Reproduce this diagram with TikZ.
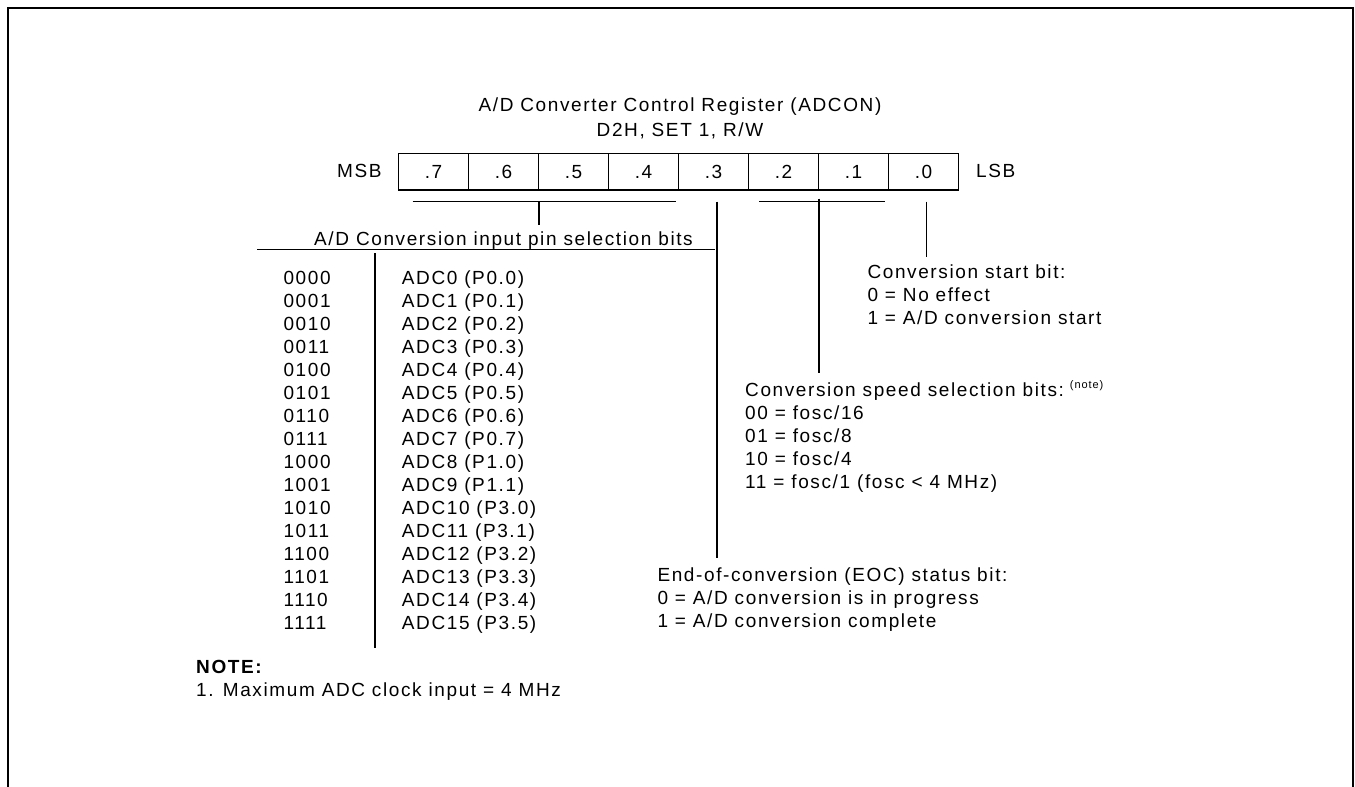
\documentclass[tikz,border=0pt]{standalone}
\usepackage{fontspec}
\setmainfont{Liberation Sans}[LetterSpace=8.5]
\begin{document}
\begin{tikzpicture}[x=1pt,y=-1pt,
  every node/.style={inner sep=0pt, font=\fontsize{19}{23}\selectfont},
  cell/.style={draw, line width=1.4pt, minimum width=70pt, minimum height=36.5pt},
  txt/.style={anchor=base west},
  conn/.style={line width=1.4pt},
  frameline/.style={line width=2pt, line join=miter}]
\useasboundingbox (0,0) rectangle (1355,787);
% outer frame (open at the bottom)
\draw[frameline] (8.3,787) -- (8.3,7.5) -- (1352.7,7.5) -- (1352.7,787);
% title
\node[anchor=base] (t1) at (680,111.7) {A/D Converter Control Register (ADCON)};
\node[anchor=base] (t2) at (680,136) {D2H, SET 1, R/W};
% register cells
\foreach \b [count=\i from 0] in {7,6,5,4,3,2,1,0}
  \node[cell] (b\b) at ({433.5+70*\i},171.75) {.\b};
\node[anchor=base east] (msb) at (381.7,177.3) {MSB};
\node[anchor=base west] (lsb) at (976,177.3) {LSB};
% bracket for bits 7-4
\coordinate (selL) at (412.7,201.7);
\coordinate (selR) at (675.5,201.7);
\coordinate (selM) at (539,201.7);
\coordinate (selS) at (539,225);
\draw[conn] (selL) -- (selR);
\draw[conn] (selM) -- (selS);
\node[anchor=base east] (seltxt) at (693,245) {A/D Conversion input pin selection bits};
\coordinate (ulL) at (257.3,249.5);
\coordinate (ulR) at (715,249.5);
\draw[conn] (ulL) -- (ulR);
\coordinate (tabT) at (375,253.3);
\coordinate (tabB) at (375,648.3);
\draw[conn] (tabT) -- (tabB);
\foreach \c/\a [count=\i from 0] in {0000/ADC0 (P0.0),0001/ADC1 (P0.1),0010/ADC2 (P0.2),0011/ADC3 (P0.3),0100/ADC4 (P0.4),0101/ADC5 (P0.5),0110/ADC6 (P0.6),0111/ADC7 (P0.7),1000/ADC8 (P1.0),1001/ADC9 (P1.1),1010/ADC10 (P3.0),1011/ADC11 (P3.1),1100/ADC12 (P3.2),1101/ADC13 (P3.3),1110/ADC14 (P3.4),1111/ADC15 (P3.5)}{
  \node[txt] (code\i) at (283.3,{284.3+23*\i}) {\c};
  \node[txt] (adc\i) at (401.7,{284.3+23*\i}) {\a};
}
% bit 3: EOC
\coordinate (eocT) at (717,201.7);
\coordinate (eocB) at (717,558.3);
\draw[conn] (eocT) -- (eocB);
\node[txt] (eoc0) at (657.3,581.7) {End-of-conversion (EOC) status bit:};
\node[txt] (eoc1) at (657.3,604.7) {0 = A/D conversion is in progress};
\node[txt] (eoc2) at (657.3,627.7) {1 = A/D conversion complete};
% bits 2-1: speed
\coordinate (spdL) at (759.3,201.7);
\coordinate (spdR) at (885,201.7);
\coordinate (spdM) at (819,198.5);
\coordinate (spdS) at (819,373);
\draw[conn] (spdL) -- (spdR);
\draw[conn] (spdM) -- (spdS);
\node[txt] (spd0) at (745,396.7) {Conversion speed selection bits:\hspace{6pt}\raisebox{8pt}{\fontsize{11}{11}\selectfont(note)}};
\node[txt] (spd1) at (745,419.7) {00 = fosc/16};
\node[txt] (spd2) at (745,442.7) {01 = fosc/8};
\node[txt] (spd3) at (745,465.7) {10 = fosc/4};
\node[txt] (spd4) at (745,488.7) {11 = fosc/1 (fosc < 4 MHz)};
% bit 0: start
\coordinate (stT) at (926.7,201.7);
\coordinate (stB) at (926.7,256.7);
\draw[conn] (stT) -- (stB);
\node[txt] (st0) at (867.3,278.3) {Conversion start bit:};
\node[txt] (st1) at (867.3,301.3) {0 = No effect};
\node[txt] (st2) at (867.3,324.3) {1 = A/D conversion start};
% note
\node[txt] (note) at (196,673) {\bfseries NOTE:};
\node[txt] (note1) at (196,696.5) {1. Maximum ADC clock input = 4 MHz};
\end{tikzpicture}
\end{document}
